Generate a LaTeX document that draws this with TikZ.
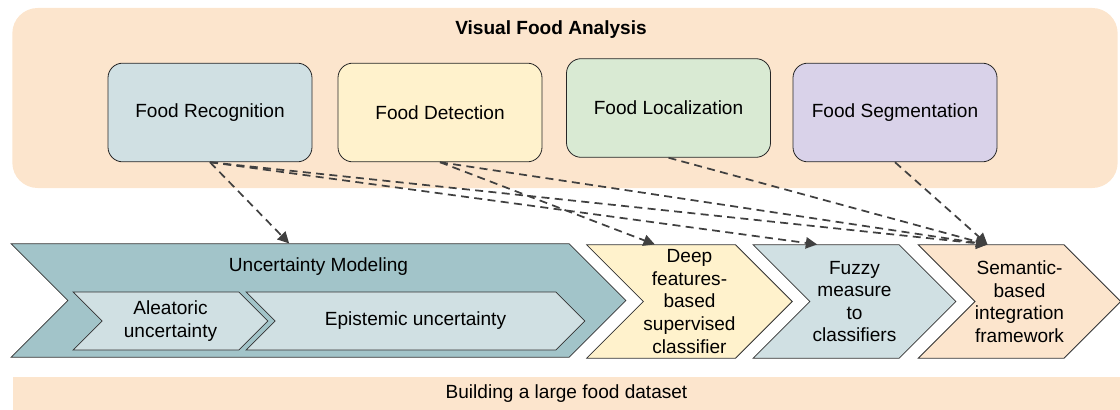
\documentclass[tikz,border=0pt]{standalone}
\usepackage{fontspec}
\setmainfont{Liberation Sans}
\usetikzlibrary{shapes.symbols,arrows.meta}

\definecolor{peach}{HTML}{FCE5CD}
\definecolor{paleblue}{HTML}{D0E0E3}
\definecolor{paleyellow}{HTML}{FFF2CC}
\definecolor{palegreen}{HTML}{D9EAD3}
\definecolor{palepurple}{HTML}{D9D2E9}
\definecolor{uncteal}{HTML}{A2C4C9}
\definecolor{arrowgray}{HTML}{404040}

\tikzset{
  task/.style={draw=black!85, rounded corners=11pt, minimum width=153pt, minimum height=74pt, inner sep=0pt, line width=0.6pt},
  chev/.style={draw=black!80, signal, signal from=west, signal to=east, signal pointer angle=90, inner sep=0pt, line width=0.6pt, align=center},
  link/.style={->, draw=arrowgray, line width=1.3pt, dash pattern=on 6pt off 4pt},
}

\begin{document}
\begin{tikzpicture}[x=0.75pt, y=-0.75pt, >={Triangle[length=8.5pt,width=8.5pt]}, font=\fontsize{14.3}{16.9}\selectfont]
  \useasboundingbox (0,0) rectangle (1120,410);
  % backgrounds
  \node[fill=peach, rounded corners=19pt, minimum width=829pt, minimum height=135pt] (vfa) at (565,98) {};
  \node[font=\fontsize{14.3}{16.9}\selectfont\bfseries] (title) at (551,30) {Visual Food Analysis};
  \node[fill=peach, minimum width=830pt, minimum height=24.75pt] (dataset) at (566.5,393.5) {Building a large food dataset};

  % tasks
  \node[task, fill=paleblue] (rec) at (210,112.5) {Food Recognition};
  \node[task, fill=paleyellow] (det) at (440,112.5) {Food Detection};
  \node[task, fill=palegreen] (loc) at (668.5,108) {Food Localization};
  \node[task, fill=palepurple] (seg) at (895,112.5) {Food Segmentation};

  % pipeline
  \node[chev, fill=uncteal, minimum width=461pt, minimum height=85pt] (unc) at (318.5,300.5) {};
  \node (unctext) at (318.5,267) {Uncertainty Modeling};
  \node[chev, fill=paleblue, minimum width=146pt, minimum height=43.5pt] (alea) at (170.5,321) {Aleatoric\\uncertainty};
  \node[chev, fill=paleblue, minimum width=254pt, minimum height=43.5pt] (epis) at (415.5,321) {Epistemic uncertainty};
  \node[chev, fill=paleyellow, minimum width=154pt, minimum height=85pt] (deep) at (689.5,301.5) {Deep\\features-\\based\\supervised\\classifier};
  \node[chev, fill=paleblue, minimum width=152pt, minimum height=85pt] (fuzzy) at (854.5,301.5) {Fuzzy\\measure\\to\\classifiers};
  \node[chev, fill=peach, minimum width=149pt, minimum height=85pt] (sem) at (1019.5,301.5) {Semantic-\\based\\integration\\framework};

  % links
  \draw[link] (rec.south) -- ([xshift=-22pt]unc.north);
  \draw[link] (rec.south) -- ([xshift=-28pt]fuzzy.north);
  \draw[link] (rec.south) -- ([xshift=-24pt]sem.north);
  \draw[link] (det.south) -- ([xshift=-26pt]deep.north);
  \draw[link] (det.south) -- ([xshift=-24pt]sem.north);
  \draw[link] (loc.south) -- ([xshift=-24pt]sem.north);
  \draw[link] (seg.south) -- ([xshift=-24pt]sem.north);
\end{tikzpicture}
\end{document}
